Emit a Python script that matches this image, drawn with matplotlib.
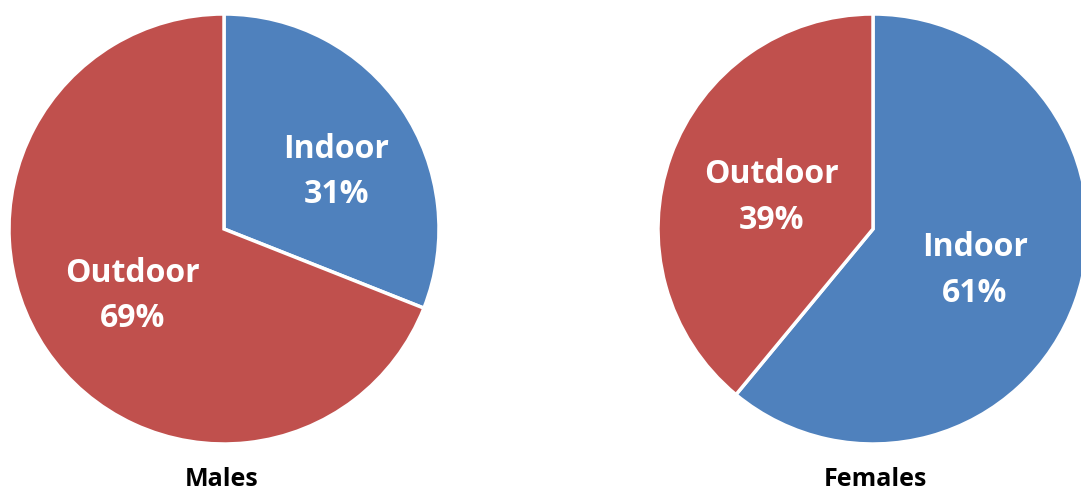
import numpy as np
import matplotlib.pyplot as plt

groups = ["Males", "Females"]
places = ["Indoor", "Outdoor"]
males_pct = [31, 69]
females_pct = [61, 39]

# label placement: distance from the centre (fraction of radius) and a
# small turn away from the wedge's middle angle, in degrees
males_label_r = [0.595, 0.516]
males_label_turn = [-5.7, 0.3]
females_label_r = [0.505, 0.502]
females_label_turn = [-0.2, 0.4]

colors = ["#4F81BD", "#C0504D"]

plt.rcParams['font.family'] = ['Open Sans', 'DejaVu Sans']

W, H = 1081, 493
fig = plt.figure(figsize=(W / 100, H / 100), dpi=100)

R = 215
centres = [(224, 229), (873, 229)]
title_y = 480

for name, pct, lab_r, turn, (cx, cy) in zip(
        groups, [males_pct, females_pct], [males_label_r, females_label_r],
        [males_label_turn, females_label_turn], centres):
    ax = fig.add_axes([(cx - R) / W, (H - cy - R) / H, 2 * R / W, 2 * R / H])
    wedges, _ = ax.pie(pct, colors=colors, startangle=90, counterclock=False,
                       radius=1.0, wedgeprops=dict(edgecolor="white", linewidth=2.5))
    ax.set_xlim(-1, 1)
    ax.set_ylim(-1, 1)
    ax.set_aspect("equal")
    ax.axis("off")
    for w, place, p, r, t in zip(wedges, places, pct, lab_r, turn):
        mid = np.deg2rad((w.theta1 + w.theta2) / 2 + t)
        ax.annotate(f"{place}\n{p}%", (r * np.cos(mid), r * np.sin(mid)),
                    xytext=(0, -3), textcoords="offset points",
                    ha="center", va="center", color="white", fontsize=23,
                    fontweight="bold", linespacing=1.5)
    fig.text(cx / W + 0.002 * (1 if name == "Females" else -1), 1 - title_y / H,
             name, ha="center", va="center",
             fontsize=18, fontweight="bold", color="black")

fig.savefig("out.png", dpi=100)
